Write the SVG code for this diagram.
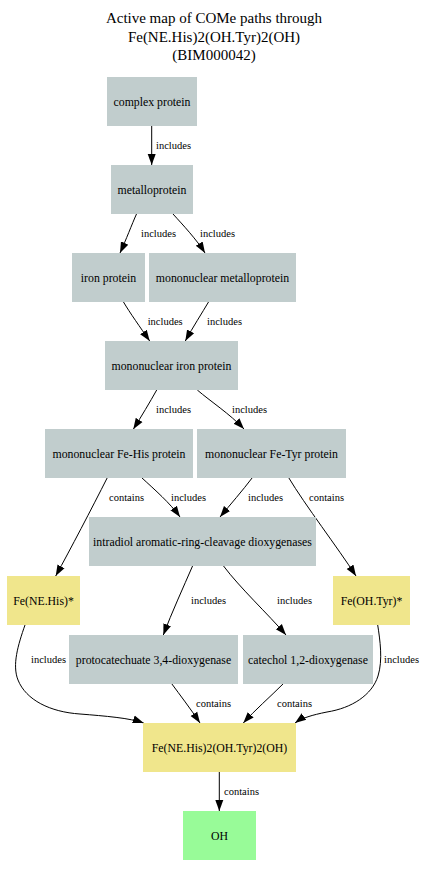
<svg xmlns="http://www.w3.org/2000/svg" width="432" height="876" viewBox="0 0 432 876">
<style>
text{font-family:"Liberation Serif","Times New Roman",serif;fill:#000}
.t{font-size:15px;text-anchor:middle}
.n{font-size:11.8px;text-anchor:middle}
.l{font-size:10.5px}
.g{fill:#c1cdcd}
.y{fill:#f0e68c}
.p{fill:#98fb98}
.e path{fill:none;stroke:#000;stroke-width:1;marker-end:url(#a)}
</style>
<defs>
<marker id="a" markerUnits="userSpaceOnUse" markerWidth="12" markerHeight="10" refX="11" refY="4" orient="auto" viewBox="0 0 12 8">
<path d="M0,0 L11,4 L0,8 Z" fill="#000"/>
</marker>
</defs>
<rect width="432" height="876" fill="#fff"/>
<g id="title">
<text class="t" x="214" y="23">Active map of COMe paths through</text>
<text class="t" x="214" y="41.5">Fe(NE.His)2(OH.Tyr)2(OH)</text>
<text class="t" x="214" y="60">(BIM000042)</text>
</g>
<g class="e" id="edges">
<path d="M151.7,126 L151.7,165"/>
<path d="M136.5,214 C132,224 126,240 120,253"/>
<path d="M173,214 C183,225 197,240 205,253"/>
<path d="M123.3,301.7 C130,313 140,327 149.7,341"/>
<path d="M208.7,301.7 C202,313 193,327 185.3,341"/>
<path d="M156.7,390 C150,402 141,417 133.3,429.3"/>
<path d="M197.3,390 C210,401 230,414 244,429"/>
<path d="M107.3,477.7 C92,508 70,550 55.7,576"/>
<path d="M141.7,477.7 C155,490 170,503 180,517"/>
<path d="M252.3,477.7 C243,490 230,505 220,517"/>
<path d="M288.7,477.7 C305,505 338,548 356,576"/>
<path d="M192.7,565.7 C183,588 172,612 163.3,635"/>
<path d="M223.3,565.7 C240,588 268,614 286,635"/>
<path d="M25,625 C18,645 12,665 18,680 C26,700 50,712 80,714 C105,716 130,718 143.7,723"/>
<path d="M377.7,625 C380,640 383,660 378,676 C372,695 352,708 327,712 C312,715 302,718 295,723"/>
<path d="M171.7,683.7 C180,695 190,708 200,723"/>
<path d="M283.3,683.7 C270,697 255,710 243.3,723"/>
<path d="M219.3,771.7 L219.3,811"/>
<text class="l" x="156" y="149.2">includes</text>
<text class="l" x="141" y="237.2">includes</text>
<text class="l" x="200" y="237.2">includes</text>
<text class="l" x="147.7" y="324.8">includes</text>
<text class="l" x="207" y="324.8">includes</text>
<text class="l" x="156" y="413.2">includes</text>
<text class="l" x="232" y="413.2">includes</text>
<text class="l" x="109" y="501.2">contains</text>
<text class="l" x="171" y="501.2">includes</text>
<text class="l" x="248" y="501.2">includes</text>
<text class="l" x="309" y="501.2">contains</text>
<text class="l" x="191" y="603.8">includes</text>
<text class="l" x="277" y="603.8">includes</text>
<text class="l" x="31" y="663.2">includes</text>
<text class="l" x="384" y="663.2">includes</text>
<text class="l" x="196" y="706.8">contains</text>
<text class="l" x="277" y="706.8">contains</text>
<text class="l" x="224" y="795.2">contains</text>
</g>
<g id="complex_protein"><rect class="g" x="107" y="77" width="90" height="49"/><text class="n" x="152" y="105.5">complex protein</text></g>
<g id="metalloprotein"><rect class="g" x="111" y="165" width="82" height="49"/><text class="n" x="152" y="193.5">metalloprotein</text></g>
<g id="iron_protein"><rect class="g" x="72" y="253" width="73" height="49"/><text class="n" x="108.5" y="281.5">iron protein</text></g>
<g id="mononuclear_metalloprotein"><rect class="g" x="149" y="253" width="147" height="49"/><text class="n" x="222.5" y="281.5">mononuclear metalloprotein</text></g>
<g id="mononuclear_iron_protein"><rect class="g" x="105" y="341" width="133" height="49"/><text class="n" x="171.5" y="369.5">mononuclear iron protein</text></g>
<g id="fe_his_protein"><rect class="g" x="45" y="429" width="148" height="49"/><text class="n" x="119" y="457.5">mononuclear Fe-His protein</text></g>
<g id="fe_tyr_protein"><rect class="g" x="197" y="429" width="149" height="49"/><text class="n" x="271.5" y="457.5">mononuclear Fe-Tyr protein</text></g>
<g id="intradiol"><rect class="g" x="89" y="517" width="227" height="49"/><text class="n" x="202.5" y="545.5">intradiol aromatic-ring-cleavage dioxygenases</text></g>
<g id="fe_ne_his"><rect class="y" x="7" y="576" width="73" height="49"/><text class="n" x="43.5" y="604.5">Fe(NE.His)*</text></g>
<g id="fe_oh_tyr"><rect class="y" x="333" y="576" width="77" height="49"/><text class="n" x="371.5" y="604.5">Fe(OH.Tyr)*</text></g>
<g id="protocatechuate"><rect class="g" x="69" y="635" width="169" height="49"/><text class="n" x="153.5" y="663.5">protocatechuate 3,4-dioxygenase</text></g>
<g id="catechol"><rect class="g" x="243" y="635" width="130" height="49"/><text class="n" x="308" y="663.5">catechol 1,2-dioxygenase</text></g>
<g id="fe_complex"><rect class="y" x="143" y="723" width="153" height="49"/><text class="n" x="219.5" y="751.5">Fe(NE.His)2(OH.Tyr)2(OH)</text></g>
<g id="oh"><rect class="p" x="183" y="811" width="73" height="49"/><text class="n" x="219.5" y="839.5">OH</text></g>
</svg>
